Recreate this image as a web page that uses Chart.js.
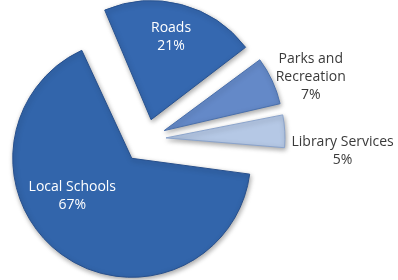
<!DOCTYPE html>
<html>
<head>
<meta charset="utf-8">
<script src="https://cdn.jsdelivr.net/npm/chart.js@4.4.1/dist/chart.umd.min.js"></script>
<style>
  html, body { margin: 0; padding: 0; background: #fff; }
  #wrap { width: 398px; height: 280px; position: relative; }
</style>
</head>
<body>
<div id="wrap"><canvas id="piechart"></canvas></div>
<script>
// budget shares, clockwise starting from Roads
const categories = ['Roads', 'Parks and Recreation', 'Library Services', 'Local Schools'];
const shares = [21, 7, 5, 67];
const labelLines = [['Roads', '21%'], ['Parks and', 'Recreation', '7%'], ['Library Services', '5%'], ['Local Schools', '67%']];

const fillColors = ['#3568b0', '#6489c8', '#b5c8e5', '#3265ab'];
const edgeColors = ['#285290', '#4a70ac', '#8aa3cb', '#274f8c'];
const textColors = ['#ffffff', '#3a3a3a', '#3a3a3a', '#ffffff'];
// where each label sits: [degrees clockwise from 12 o'clock, distance from pie centre]
const labelSpots = [[13.8, 105], [69.4, 176], [93.5, 197], [232.4, 93]];

// chart.js moves a slice by offset / 4
const explode = [80, 80, 80, 96];

// chart.js also grows the radius of an offset slice; undo that so all slices stay the same size
const keepRadius = {
    id: 'keepRadius',
    beforeDatasetDraw(chart, args) {
        const ctx = chart.ctx;
        ctx.save();
        ctx.shadowColor = 'rgba(0, 0, 0, 0.35)';
        ctx.shadowBlur = 5;
        ctx.shadowOffsetX = 1;
        ctx.shadowOffsetY = 2;
        args.meta.data.forEach(arc => {
            const shift = (arc.options.offset || 0) / 4;
            const fix = 1 - Math.sin(Math.min(Math.PI, arc.circumference));
            arc.$savedRadius = arc.outerRadius;
            arc.outerRadius = arc.outerRadius - shift * fix;
        });
    },
    afterDatasetDraw(chart, args) {
        args.meta.data.forEach(arc => {
            arc.outerRadius = arc.$savedRadius;
        });
        chart.ctx.restore();
    }
};

const sliceLabels = {
    id: 'sliceLabels',
    afterDatasetsDraw(chart) {
        const ctx = chart.ctx;
        const arcs = chart.getDatasetMeta(0).data;
        ctx.save();
        ctx.font = '14px "Open Sans", sans-serif';
        ctx.textAlign = 'center';
        ctx.textBaseline = 'middle';
        arcs.forEach((arc, i) => {
            const spot = labelSpots[i];
            const a = (spot[0] - 90) * Math.PI / 180;
            const cx = arc.x + Math.cos(a) * spot[1];
            const cy = arc.y + Math.sin(a) * spot[1];
            const lines = labelLines[i];
            const lh = 18;
            ctx.fillStyle = textColors[i];
            lines.forEach((t, j) => {
                ctx.fillText(t, cx, cy + (j - (lines.length - 1) / 2) * lh);
            });
        });
        ctx.restore();
    }
};

const ctx = document.getElementById('piechart').getContext('2d');

const myPieChart = new Chart(ctx, {
    type: 'pie',
    data: {
        labels: categories,
        datasets: [{
            data: shares,
            backgroundColor: fillColors,
            borderColor: edgeColors,
            borderWidth: 1,
            offset: explode
        }]
    },
    options: {
        responsive: true,
        maintainAspectRatio: false,
        animation: false,
        rotation: -23,
        radius: 119,
        layout: { padding: { left: 0, right: 106, top: 0, bottom: 2 } },
        plugins: {
            legend: { display: false },
            tooltip: { enabled: false }
        }
    },
    plugins: [keepRadius, sliceLabels]
});
</script>
</body>
</html>
